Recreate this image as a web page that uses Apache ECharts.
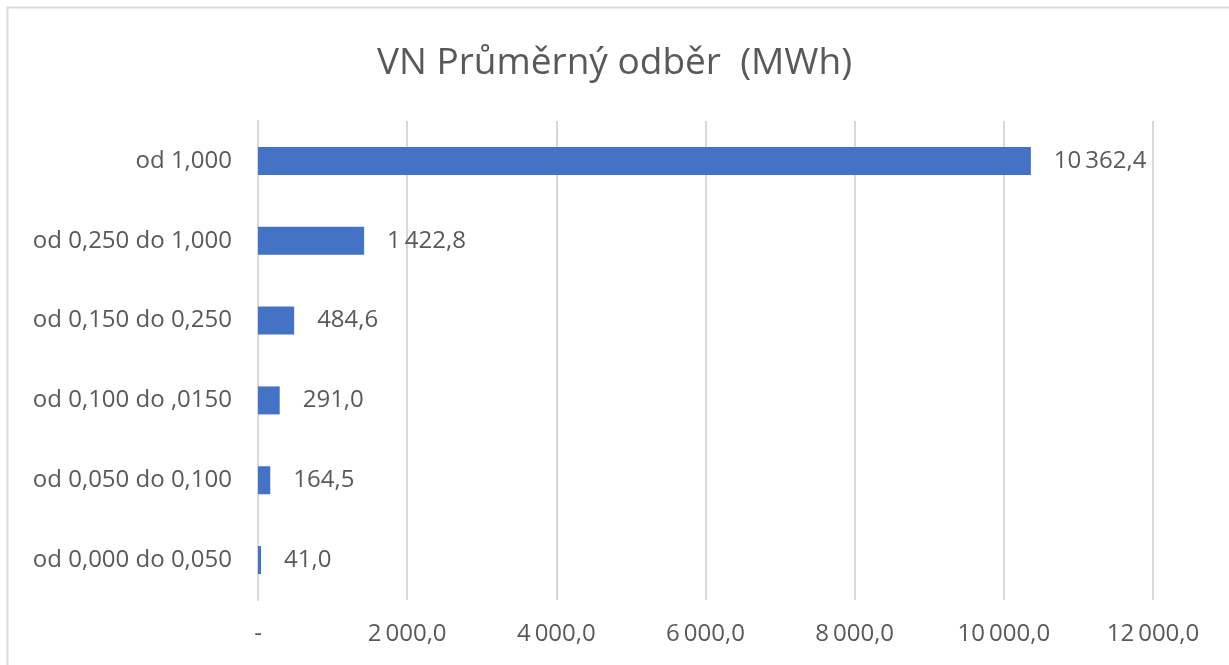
<!DOCTYPE html>
<html>
<head>
<meta charset="utf-8">
<script src="https://cdn.jsdelivr.net/npm/echarts@6/dist/echarts.min.js"></script>
<style>
  html, body { margin: 0; padding: 0; background: #fff; }
  #chart { width: 1229px; height: 665px; }
</style>
</head>
<body>
<div id="chart"></div>
<script>
const categories = [
  'od 0,000 do 0,050',
  'od 0,050 do 0,100',
  'od 0,100 do ,0150',
  'od 0,150 do 0,250',
  'od 0,250 do 1,000',
  'od 1,000'
]
const values = [41.0, 164.5, 291.0, 484.6, 1422.8, 10362.4]
const xTicks = [0, 2000, 4000, 6000, 8000, 10000, 12000]

const fontFamily = '"Open Sans", "Noto Sans", sans-serif'
const textColor = '#595959'

// 10362.4 -> "10 362,4"
const fmt = v => {
  const parts = v.toFixed(1).split('.')
  const int = parts[0].replace(/\B(?=(\d{3})+(?!\d))/g, '\u2009')
  return int + ',' + parts[1]
}

const chart = echarts.init(document.getElementById('chart'))

chart.setOption({
  animation: false,
  backgroundColor: '#fff',
  title: {
    text: 'VN Průměrný odběr  (MWh)',
    left: 'center',
    top: 40,
    textStyle: {
      color: textColor,
      fontFamily,
      fontSize: 37,
      fontWeight: 'normal'
    }
  },
  graphic: [{
    type: 'rect',
    shape: { x: 7.5, y: 7.5, width: 1240, height: 680 },
    style: { fill: 'none', stroke: '#d9d9d9', lineWidth: 2 },
    silent: true
  }],
  grid: {
    left: 258,
    right: 76,
    top: 121,
    bottom: 65,
    containLabel: false
  },
  xAxis: {
    type: 'value',
    min: xTicks[0],
    max: xTicks[xTicks.length - 1],
    interval: 2000,
    axisLine: { show: false },
    axisTick: { show: false },
    splitLine: { lineStyle: { color: '#d9d9d9', width: 2 } },
    axisLabel: {
      color: textColor,
      fontFamily,
      fontSize: 24,
      margin: 22,
      formatter: v => v === 0 ? '-' : fmt(v)
    }
  },
  yAxis: {
    type: 'category',
    data: categories,
    axisLine: { lineStyle: { color: '#d9d9d9', width: 2 } },
    axisTick: { show: false },
    axisLabel: {
      color: textColor,
      fontFamily,
      fontSize: 24,
      margin: 26
    }
  },
  series: [{
    type: 'bar',
    data: values,
    barWidth: 28,
    itemStyle: { color: '#4472c4' },
    label: {
      show: true,
      position: 'right',
      distance: 23,
      color: textColor,
      fontFamily,
      fontSize: 24,
      formatter: p => fmt(p.value)
    }
  }]
})
</script>
</body>
</html>
